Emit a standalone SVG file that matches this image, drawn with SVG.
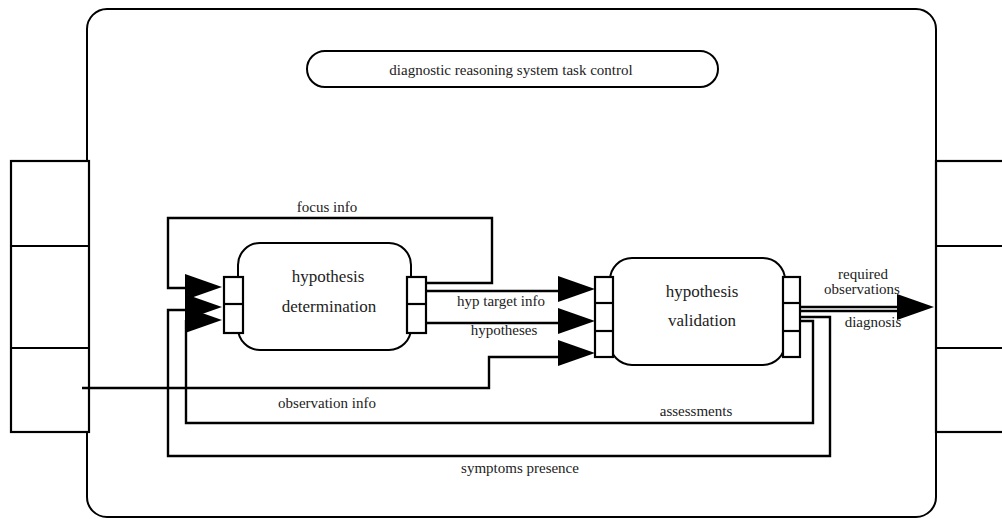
<svg xmlns="http://www.w3.org/2000/svg" xmlns:xlink="http://www.w3.org/1999/xlink" width="1002" height="519" viewBox="0 0 1002 519">
<style>
.box{fill:#fff;stroke:#000;stroke-width:2}
.port{fill:#fff;stroke:#000;stroke-width:2.2}
.ln{fill:none;stroke:#000;stroke-width:2.4}
text{font-family:'Liberation Serif','Times New Roman','DejaVu Serif',serif;fill:#222;text-anchor:middle}
.lbl{font-size:15px}
.big{font-size:17px}
</style>
<defs>
<path id="ah" d="M0,0 L-37,-13 L-37,13 Z" fill="#000"/>
</defs>
<rect width="1002" height="519" fill="#fff"/>
<g id="system">
<rect class="box" x="87" y="9" width="849" height="508" rx="20"/>
</g>
<g id="input-ports">
<rect class="port" x="11" y="161" width="78" height="271"/>
<line class="port" x1="11" y1="246" x2="89" y2="246"/>
<line class="port" x1="11" y1="348" x2="89" y2="348"/>
</g>
<g id="output-ports">
<rect class="port" x="936" y="161" width="80" height="271"/>
<line class="port" x1="936" y1="246" x2="1002" y2="246"/>
<line class="port" x1="936" y1="348" x2="1002" y2="348"/>
</g>
<g id="task-control">
<rect class="box" x="307" y="51" width="411" height="36" rx="18"/>
<text class="lbl" x="511" y="75">diagnostic reasoning system task control</text>
</g>
<g id="connectors">
<path class="ln" d="M426,283 H492 V218 H168 V288 H186"/>
<path class="ln" d="M426,291 H558"/>
<path class="ln" d="M426,323 H558"/>
<path class="ln" d="M82,388 H489 V357 H558"/>
<path class="ln" d="M794,317 H830 V456 H168 V310 H186"/>
<path class="ln" d="M794,321 H813 V423 H186 V320"/>
<path class="ln" d="M795,307 H897"/>
<path class="ln" d="M795,311 H897"/>
<use xlink:href="#ah" x="222" y="287"/>
<use xlink:href="#ah" x="222" y="307"/>
<use xlink:href="#ah" x="222" y="320"/>
<use xlink:href="#ah" x="595" y="289"/>
<use xlink:href="#ah" x="595" y="321"/>
<use xlink:href="#ah" x="595" y="353"/>
<use xlink:href="#ah" x="934" y="307"/>
<text class="lbl" x="327" y="212">focus info</text>
<text class="lbl" x="501" y="306">hyp target info</text>
<text class="lbl" x="504" y="335">hypotheses</text>
<text class="lbl" x="327" y="408">observation info</text>
<text class="lbl" x="696" y="416">assessments</text>
<text class="lbl" x="520" y="473">symptoms presence</text>
<text class="lbl" x="863" y="279">required</text>
<text class="lbl" x="862" y="294">observations</text>
<text class="lbl" x="873" y="327">diagnosis</text>
</g>
<g id="hypothesis-determination">
<rect class="box" x="238" y="243" width="173" height="107" rx="22"/>
<rect class="port" x="224" y="277" width="19" height="56"/>
<line class="port" x1="224" y1="304" x2="243" y2="304"/>
<rect class="port" x="407" y="277" width="19" height="56"/>
<line class="port" x1="407" y1="304" x2="426" y2="304"/>
<text class="big" x="328" y="282">hypothesis</text>
<text class="big" x="329" y="312">determination</text>
</g>
<g id="hypothesis-validation">
<rect class="box" x="610" y="258" width="175" height="107" rx="22"/>
<rect class="port" x="595" y="277" width="18" height="80"/>
<line class="port" x1="595" y1="303" x2="613" y2="303"/>
<line class="port" x1="595" y1="331" x2="613" y2="331"/>
<rect class="port" x="783" y="277" width="17" height="80"/>
<line class="port" x1="783" y1="303" x2="800" y2="303"/>
<line class="port" x1="783" y1="331" x2="800" y2="331"/>
<text class="big" x="702" y="297">hypothesis</text>
<text class="big" x="702" y="326">validation</text>
</g>
</svg>
